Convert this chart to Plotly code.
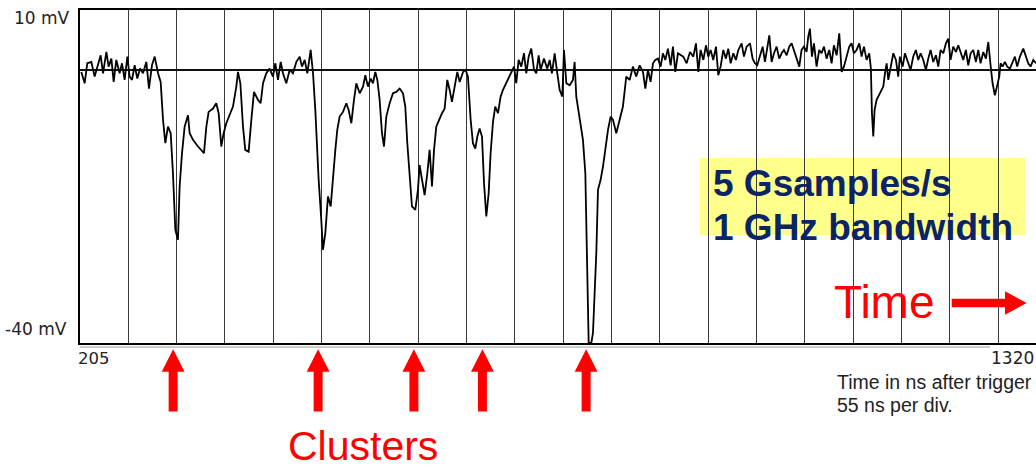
import plotly.graph_objects as go

# ---- Oscilloscope trace (time in ns after trigger, signal in mV) ----
t_a = [206.5, 210.3, 213.3, 217.9, 221.7, 225.5, 228.5, 231.2, 235.0, 237.6,
       240.7, 243.3, 246.3, 250.1, 252.8, 255.8, 258.9, 261.5, 264.2, 267.2,
       270.2, 273.3, 276.7, 280.5, 283.5, 286.9, 290.0, 293.8, 296.8, 299.5,
       302.1, 305.1, 308.2, 310.8, 313.5, 316.5, 318.4, 321.1, 324.1, 327.9,
       329.8, 333.6, 339.3, 346.1, 348.8, 351.4, 356.4, 360.1, 362.8, 365.8,
       368.5, 371.5, 375.3, 379.1, 382.9, 384.8, 387.5, 390.5, 393.1, 396.9,
       400.0, 403.0, 407.6, 410.6, 413.3, 417.0, 420.8, 424.6, 427.3, 430.3,
       433.4, 436.0, 439.8, 443.6, 447.4, 451.2, 455.0, 457.6, 460.7, 463.7,
       467.5, 470.2, 472.8, 475.1, 476.6, 479.6]
v_a = [0.7, -1.0, 2.0, 2.2, 0.0, 2.0, 3.2, 0.5, 3.7, 1.5,
       2.7, -0.8, 2.5, 0.5, 2.0, -0.5, 3.0, 0.0, -0.5, 1.7,
       -0.3, 1.2, 0.5, 2.2, -1.8, 1.7, 3.0, 0.5, -0.8, -6.5,
       -10.0, -7.5, -8.5, -14.5, -23.0, -24.5, -16.5, -11.5, -7.5, -5.8,
       -8.5, -9.5, -10.5, -11.5, -7.5, -5.3, -4.8, -4.0, -5.5, -10.5,
       -8.5, -7.0, -5.8, -4.5, -1.5, 0.7, -1.0, -7.5, -11.0, -11.3,
       -6.5, -2.3, -3.5, -4.0, -1.0, 0.5, 1.2, 0.0, 2.0, -0.5,
       2.2, 0.5, -1.0, 1.0, 0.5, 2.2, 3.0, 1.5, 2.5, 0.5,
       4.0, 0.5, -5.0, -12.5, -15.5, -21.5]

t_b = [481.5, 484.2, 487.2, 490.3, 492.9, 495.6, 497.8, 500.5, 504.3, 508.1,
       510.7, 513.8, 516.8, 519.5, 523.3, 527.1, 529.7, 532.7, 535.8, 538.4,
       541.1, 543.4, 546.0, 548.7, 551.0, 553.6, 557.4, 561.2, 565.0, 568.8,
       572.6, 575.2, 577.5, 580.2, 582.8, 586.6, 589.6, 591.5, 593.4, 597.2,
       600.3, 602.9, 605.6, 607.9, 610.5, 614.3, 617.0, 620.0, 623.0, 625.7,
       628.3, 631.4, 634.4, 637.1, 640.9, 643.9, 646.5, 649.6, 652.2, 654.9,
       657.2, 659.8, 662.5, 664.8, 667.4, 670.1, 672.3, 675.0, 677.6, 680.7,
       683.7, 686.4, 690.2, 692.8, 695.9, 698.9, 701.5, 704.2, 707.2, 710.3,
       712.9, 715.6, 718.6, 721.7, 724.3, 727.0, 729.2, 733.0, 736.8, 739.5,
       742.1, 745.2, 748.2, 750.9, 753.9]
v_b = [-26.0, -23.5, -18.0, -19.5, -15.0, -11.0, -8.0, -6.0, -5.3, -4.0,
       -5.0, -7.0, -3.5, -1.0, -2.5, -1.5, 0.2, -1.5, -0.3, -1.0,
       0.7, -0.5, -3.5, -8.5, -10.5, -6.0, -4.0, -2.5, -2.3, -1.8,
       -2.5, -4.5, -10.0, -14.5, -19.5, -20.0, -17.0, -13.3, -15.0, -17.8,
       -14.5, -11.0, -16.5, -11.0, -7.5, -6.3, -5.5, -4.8, -0.5, -2.0,
       -3.8, -1.5, 0.7, -0.8, 0.7, 1.0, 0.0, -6.5, -10.0, -10.8,
       -9.0, -7.8, -9.0, -16.0, -21.0, -17.5, -11.5, -6.8, -4.5, -5.5,
       -3.0, -2.0, -1.0, -0.3, 0.5, 1.5, -1.0, 2.5, 1.5, 3.5,
       0.5, 3.0, 4.2, 1.0, 0.5, 3.2, 1.0, 2.7, 1.2, 2.5,
       0.5, 3.5, 0.5, -2.0, -3.0]

t_c = [755.8, 758.5, 762.3, 766.0, 767.9, 769.8, 773.6, 777.4, 780.1, 782.4,
       783.9, 786.9, 788.8, 790.7, 792.6, 794.5, 797.5, 800.2, 802.8, 805.9,
       808.9, 811.6, 815.3, 819.1, 822.9, 826.7, 830.5, 834.3, 838.1, 841.9,
       845.7, 848.4, 851.4, 854.4, 857.1, 859.7, 862.8, 865.8, 868.4, 871.1,
       874.1, 877.2, 879.8, 882.5, 885.5]
v_c = [4.0, -1.0, -1.3, -0.5, 2.2, -3.0, -6.0, -9.5, -14.5, -29.0,
       -40.0, -40.0, -38.5, -32.5, -26.5, -17.0, -15.5, -13.5, -11.0, -8.0,
       -6.0, -6.5, -8.5, -6.5, -4.5, 0.0, -0.5, 1.5, 0.0, 1.7,
       0.7, -1.8, 1.0, -0.8, 2.0, 2.5, 2.7, 1.5, 3.5, 2.5,
       4.2, 1.7, 4.5, 0.7, 3.5]

t_d = [891.6, 895.4, 899.2, 903.0, 906.0, 908.7, 911.3, 914.4, 917.4, 920.0,
       922.7, 925.7, 928.8, 931.4, 934.1, 937.1, 940.1, 942.8, 945.5, 948.5,
       951.5, 954.2, 958.0, 960.6, 963.7, 967.5, 970.5, 973.1, 975.8, 978.8,
       981.9, 984.5, 987.2, 989.5, 992.1, 994.8, 997.8, 1000.8, 1003.5, 1006.1,
       1009.2, 1012.2, 1014.9, 1017.5, 1020.6, 1023.6, 1026.2, 1028.9, 1031.9, 1033.8,
       1035.7, 1038.0, 1040.3, 1043.3, 1046.3, 1049.0, 1051.7, 1054.7, 1057.7, 1060.4,
       1063.0, 1066.1, 1069.1, 1071.8, 1074.4, 1077.5, 1080.5, 1083.1, 1085.8, 1088.8,
       1091.9, 1094.5, 1097.2, 1100.2, 1103.2, 1105.1, 1106.3, 1107.8, 1109.3, 1111.6,
       1115.4, 1119.2, 1121.1, 1123.0, 1124.9, 1127.5, 1130.6, 1133.6, 1136.2, 1138.1,
       1141.2, 1143.8, 1147.6, 1150.3, 1153.3, 1156.3, 1159.0, 1161.7, 1164.7, 1167.7,
       1170.4, 1173.0, 1176.1, 1179.1, 1181.8, 1184.4, 1187.5, 1190.5, 1193.1, 1195.8,
       1198.8, 1201.9, 1204.5, 1207.2, 1210.2, 1213.2, 1215.9, 1218.6, 1221.6, 1224.6,
       1227.3, 1229.9, 1233.0, 1236.0, 1238.7, 1241.3, 1243.6, 1246.2, 1248.9, 1251.2,
       1252.7, 1254.9, 1257.6, 1260.3, 1263.3, 1266.3, 1269.0, 1271.6, 1274.7, 1278.5,
       1281.5, 1284.2, 1286.8, 1289.9, 1292.9]
v_d = [3.0, 2.0, 3.7, 3.0, 5.0, 0.7, 4.0, 2.5, 4.7, 3.0,
       4.0, 2.5, 4.5, 0.2, 1.5, 4.0, 2.7, 4.2, 2.0, 3.5,
       2.5, 4.0, 5.0, 3.0, 4.5, 5.0, 2.7, 2.0, 1.7, 3.2,
       4.5, 2.2, 4.5, 6.2, 2.2, 3.5, 4.5, 2.7, 3.5, 4.0,
       3.2, 4.5, 5.0, 4.0, 3.0, 1.5, 4.0, 4.5, 3.7, 6.0,
       7.2, 3.0, 5.0, 1.5, 4.0, 3.5, 4.5, 2.7, 4.0, 2.0,
       4.7, 3.2, 6.5, 0.7, 1.5, 3.0, 4.5, 5.0, 3.5, 4.0,
       5.0, 3.0, 4.5, 2.5, 3.5, 1.2, -5.5, -9.0, -5.0, -3.5,
       -2.5, -1.5, 0.5, 2.0, -0.5, 1.5, 3.5, 2.5, 0.0, 3.0,
       1.5, 3.5, 2.0, 1.0, 3.0, 4.0, 2.5, 3.5, 2.5, 1.0,
       2.7, 4.0, 2.2, 3.2, 1.5, 4.0, 3.5, 5.0, 5.7, 2.5,
       4.5, 3.7, 4.7, 3.5, 2.5, 4.0, 1.7, 3.5, 4.0, 2.2,
       4.0, 2.0, 3.7, 2.7, 5.2, 1.7, -1.0, -2.8, -1.0, 0.0,
       2.0, 1.5, 2.2, 1.5, 1.2, 2.2, 3.0, 1.5, 3.0, 4.2,
       3.0, 2.0, 1.5, 2.5, 2.0]

time_ns = t_a + t_b + t_c + t_d
signal_mv = v_a + v_b + v_c + v_d

# axis / annotation values
x_start_ns = 205
x_end_label_ns = 1320
x_visible_end_ns = 1293
ns_per_div = 55
y_top_mv, y_bottom_mv = 10, -40
ref_level_mv = 1.0
cluster_times_ns = [311, 476, 585, 663, 781]

FONT = "Liberation Sans, Arial, sans-serif"
TICKFONT = "DejaVu Sans, Verdana, sans-serif"
RED = "#FF0000"
NAVY = "#0B2466"

fig = go.Figure()
fig.add_trace(go.Scatter(x=time_ns, y=signal_mv, mode="lines",
                         line=dict(color="black", width=1.8),
                         hoverinfo="skip", showlegend=False))

fig.update_layout(
    width=1036, height=470,
    margin=dict(l=80, r=0, t=10, b=127),
    paper_bgcolor="white", plot_bgcolor="rgba(0,0,0,0)",
    showlegend=False,
    font=dict(family=FONT, color="#222"),
)
fig.update_xaxes(range=[x_start_ns, x_visible_end_ns], tick0=x_start_ns, dtick=ns_per_div,
                 showgrid=True, gridcolor="#3a3a3a", gridwidth=1,
                 showticklabels=False, ticks="", zeroline=False,
                 showline=True, linecolor="black", linewidth=2, mirror=True)
fig.update_yaxes(range=[y_bottom_mv, y_top_mv], tickvals=[ref_level_mv],
                 showgrid=True, gridcolor="#111", gridwidth=1.5,
                 showticklabels=False, ticks="", zeroline=False,
                 showline=True, linecolor="black", linewidth=1.5)

shapes = []
# yellow box behind the text
shapes.append(dict(type="rect", xref="paper", yref="paper", x0=0.6485, x1=0.9885,
                   y0=0.3243, y1=0.5556, fillcolor="#FFFF8C", line=dict(width=0),
                   layer="below"))
# light grey line under the bottom border
shapes.append(dict(type="line", xref="paper", yref="paper", x0=0, x1=0.952,
                   y0=-0.012, y1=-0.012, line=dict(color="#bdbdbd", width=1.5)))
# cluster arrows
tip, hb, bot = -0.019, -0.086, -0.206
hw, sw = 13.0, 5.1
for c in cluster_times_ns:
    path = (f"M {c},{tip} L {c + hw},{hb} L {c + sw},{hb} L {c + sw},{bot} "
            f"L {c - sw},{bot} L {c - sw},{hb} L {c - hw},{hb} Z")
    shapes.append(dict(type="path", xref="x", yref="paper", path=path,
                       fillcolor=RED, line=dict(width=0), layer="above"))
# time arrow
shapes.append(dict(type="path", xref="paper", yref="paper",
                   path="M 0.9118,0.1327 L 0.9676,0.1327 L 0.9676,0.1552 L 0.9902,0.1201 "
                        "L 0.9676,0.0850 L 0.9676,0.1075 L 0.9118,0.1075 Z",
                   fillcolor=RED, line=dict(width=0)))
fig.update_layout(shapes=shapes)

ann = []
def add(text, x, y, xa, ya, size, color="#222", bold=False, family=FONT):
    t = f"<b>{text}</b>" if bold else text
    ann.append(dict(text=t, x=x, y=y, xref="paper", yref="paper", xanchor=xa, yanchor=ya,
                    showarrow=False, font=dict(family=family, size=size, color=color)))

add(f"{y_top_mv} mV", -0.008, 0.977, "right", "middle", 17, family=TICKFONT)
add(f"{y_bottom_mv} mV", -0.012, 0.041, "right", "middle", 17, family=TICKFONT)
add(str(x_start_ns), -0.004, -0.046, "left", "middle", 16.5, family=TICKFONT)
add(str(x_end_label_ns), 1.0, -0.046, "right", "middle", 17, family=TICKFONT)
add("Time in ns after trigger", 0.7897, -0.117, "left", "middle", 19.5)
add(f"{ns_per_div} ns per div.", 0.7897, -0.186, "left", "middle", 19.5)
add("5 Gsamples/s", 0.660, 0.478, "left", "middle", 37, NAVY, True)
add("1 GHz bandwidth", 0.660, 0.346, "left", "middle", 37, NAVY, True)
add("Time", 0.7866, 0.122, "left", "middle", 46, RED)
add("Clusters", 0.2965, -0.310, "center", "middle", 41, RED)
fig.update_layout(annotations=ann)

fig.write_html("out.html")
